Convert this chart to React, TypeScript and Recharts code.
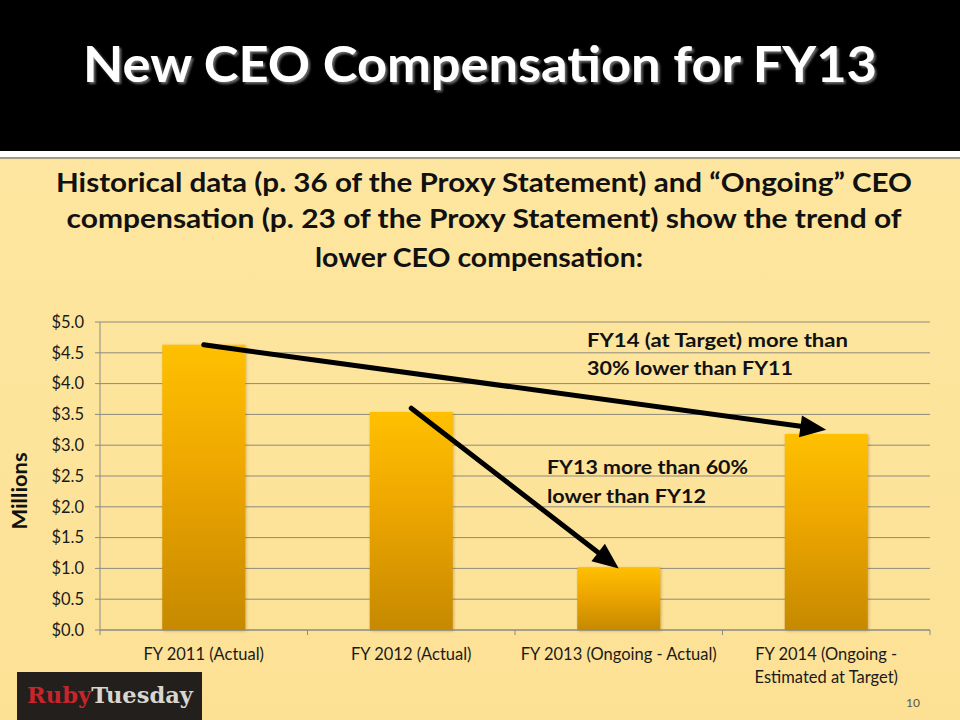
import React from 'react';
import { BarChart, Bar, XAxis, YAxis, CartesianGrid, ReferenceLine } from 'recharts';

// values, in $ millions
const categories = [
  'FY 2011 (Actual)',
  'FY 2012 (Actual)',
  'FY 2013 (Ongoing - Actual)',
  'FY 2014 (Ongoing - Estimated at Target)',
];
const compensation = [4.63, 3.54, 1.02, 3.18];
const tickLabels = [
  ['FY 2011 (Actual)'],
  ['FY 2012 (Actual)'],
  ['FY 2013 (Ongoing - Actual)'],
  ['FY 2014 (Ongoing -', 'Estimated at Target)'],
];
const yTicks = [0, 0.5, 1, 1.5, 2, 2.5, 3, 3.5, 4, 4.5, 5];

// arrows: from one bar to another, in data terms
const arrowFrom = [
  { cat: categories[0], value: 4.63 },
  { cat: categories[1], value: 3.6 },
];
const arrowTo = [
  { cat: categories[3], value: 3.25 },
  { cat: categories[2], value: 1.0 },
];

const subtitleLines = [
  'Historical data (p. 36 of the Proxy Statement) and \u201cOngoing\u201d CEO',
  'compensation (p. 23 of the Proxy Statement) show the trend of',
  'lower CEO compensation:',
];

const data = categories.map((c, i) => ({ name: c, value: compensation[i] }));

const FONT = 'Lato, "Open Sans", sans-serif';
const PLOT_W = 830;
const BAND = PLOT_W / categories.length;

const Arrow = (props: any) => {
  const { x1, y1, x2, y2 } = props;
  const dx = x2 - x1;
  const dy = y2 - y1;
  const len = Math.sqrt(dx * dx + dy * dy);
  const ux = dx / len;
  const uy = dy / len;
  const head = 26;
  const half = 11;
  const bx = x2 - ux * head;
  const by = y2 - uy * head;
  const pts = [
    `${x2},${y2}`,
    `${bx - uy * half},${by + ux * half}`,
    `${bx + uy * half},${by - ux * half}`,
  ].join(' ');
  return (
    <g>
      <line x1={x1} y1={y1} x2={bx + ux * 2} y2={by + uy * 2} stroke="#000" strokeWidth={5} strokeLinecap="round" />
      <polygon points={pts} fill="#000" />
    </g>
  );
};

const XTick = (props: any) => {
  const { x, y, index } = props;
  const lines = tickLabels[index] || [];
  return (
    <g>
      <line x1={x + BAND / 2} y1={y} x2={x + BAND / 2} y2={y + 5} stroke="#8a8a8a" />
      {index === 0 && <line x1={x - BAND / 2} y1={y} x2={x - BAND / 2} y2={y + 5} stroke="#8a8a8a" />}
      {lines.map((t: string, i: number) => (
        <text key={i} x={x} y={y + 30 + i * 23} textAnchor="middle" fontFamily={FONT} fontSize={16.5} fill="#1a1a1a">
          {t}
        </text>
      ))}
    </g>
  );
};

export default function App() {
  return (
    <div
      style={{
        position: 'absolute',
        left: 0,
        top: 0,
        width: 960,
        height: 720,
        overflow: 'hidden',
        background: 'linear-gradient(180deg, #fee7a2 0%, #fde49b 60%, #fce195 100%)',
      }}
    >
      <div style={{ position: 'absolute', left: 0, top: 0, width: 960, height: 151, background: '#000' }} />
      <div style={{ position: 'absolute', left: 0, top: 151, width: 960, height: 6, background: '#fff' }} />
      <div style={{ position: 'absolute', left: 0, top: 157, width: 960, height: 2, background: '#a09a80' }} />

      <div style={{ position: 'absolute', left: 0, top: 300 }}>
        <BarChart
          width={960}
          height={400}
          data={data}
          margin={{ top: 22, right: 30, bottom: 20, left: 40 }}
          barCategoryGap="30%"
        >
          <defs>
            <linearGradient id="barGold" x1="0" y1="0" x2="0" y2="1">
              <stop offset="0%" stopColor="#ffc000" />
              <stop offset="45%" stopColor="#eda600" />
              <stop offset="100%" stopColor="#c68900" />
            </linearGradient>
          </defs>
          <CartesianGrid vertical={false} stroke="#8e8a7c" />
          <XAxis
            dataKey="name"
            axisLine={{ stroke: '#8a8a8a' }}
            tickLine={false}
            tickSize={0}
            tickMargin={0}
            interval={0}
            height={50}
            tick={<XTick />}
          />
          <YAxis
            domain={[0, 5]}
            ticks={yTicks}
            width={60}
            axisLine={{ stroke: '#8a8a8a' }}
            tickLine={{ stroke: '#8a8a8a' }}
            tickSize={5}
            tickMargin={11}
            tickFormatter={(v: number) => `$${v.toFixed(1)}`}
            tick={{ fontFamily: FONT, fontSize: 16.5, fill: '#1a1a1a' }}
          />
          <Bar
            dataKey="value"
            fill="url(#barGold)"
            isAnimationActive={false}
            style={{ filter: 'drop-shadow(1px 1px 1.5px rgba(120,80,0,0.35))' }}
          />
          {arrowFrom.map((f, i) => (
            <ReferenceLine
              key={i}
              segment={[
                { x: f.cat, y: f.value },
                { x: arrowTo[i].cat, y: arrowTo[i].value },
              ]}
              ifOverflow="visible"
              shape={Arrow}
            />
          ))}
        </BarChart>
      </div>

      <svg
        width={960}
        height={720}
        style={{ position: 'absolute', left: 0, top: 0, pointerEvents: 'none' }}
      >
        <defs>
          <filter id="titleShadow" x="-5%" y="-20%" width="110%" height="140%">
            <feDropShadow dx="2" dy="2" stdDeviation="1.2" floodColor="#777" floodOpacity="0.9" />
          </filter>
        </defs>
        <text
          x={480}
          y={82}
          textAnchor="middle"
          fontFamily={FONT}
          fontWeight={700}
          fontSize={49}
          fill="#fff"
          textLength={794}
          lengthAdjust="spacingAndGlyphs"
          filter="url(#titleShadow)"
        >
          New CEO Compensation for FY13
        </text>

        <text x={484} y={192} textAnchor="middle" fontFamily={FONT} fontWeight={700} fontSize={27} fill="#111" textLength={856} lengthAdjust="spacingAndGlyphs">
          {subtitleLines[0]}
        </text>
        <text x={484} y={228} textAnchor="middle" fontFamily={FONT} fontWeight={700} fontSize={27} fill="#111" textLength={835} lengthAdjust="spacingAndGlyphs">
          {subtitleLines[1]}
        </text>
        <text x={479} y={267} textAnchor="middle" fontFamily={FONT} fontWeight={700} fontSize={27} fill="#111" textLength={328} lengthAdjust="spacingAndGlyphs">
          {subtitleLines[2]}
        </text>

        <text x={587} y={347} fontFamily={FONT} fontWeight={700} fontSize={19.5} fill="#111" textLength={261} lengthAdjust="spacingAndGlyphs">
          FY14 (at Target) more than
        </text>
        <text x={587} y={375} fontFamily={FONT} fontWeight={700} fontSize={19.5} fill="#111" textLength={206} lengthAdjust="spacingAndGlyphs">
          30% lower than FY11
        </text>
        <text x={547} y={474} fontFamily={FONT} fontWeight={700} fontSize={19.5} fill="#111" textLength={201} lengthAdjust="spacingAndGlyphs">
          FY13 more than 60%
        </text>
        <text x={547} y={503} fontFamily={FONT} fontWeight={700} fontSize={19.5} fill="#111" textLength={159} lengthAdjust="spacingAndGlyphs">
          lower than FY12
        </text>

        <text
          x={19}
          y={491}
          textAnchor="middle"
          dominantBaseline="central"
          transform="rotate(-90, 19, 491)"
          fontFamily={FONT}
          fontWeight={700}
          fontSize={20}
          fill="#111"
          textLength={77}
          lengthAdjust="spacingAndGlyphs"
        >
          Millions
        </text>

        <rect x={17} y={672} width={185} height={48} fill="#231f1c" />
        <text x={27} y={703} fontFamily='"DejaVu Serif", "Liberation Serif", serif' fontWeight={700} fontSize={23} textLength={166} lengthAdjust="spacingAndGlyphs">
          <tspan fill="#c8242c">Ruby</tspan>
          <tspan fill="#d9d6d0">Tuesday</tspan>
        </text>

        <text x={920} y={707} textAnchor="end" fontFamily={FONT} fontSize={12} fill="#555">
          10
        </text>
      </svg>
    </div>
  );
}
